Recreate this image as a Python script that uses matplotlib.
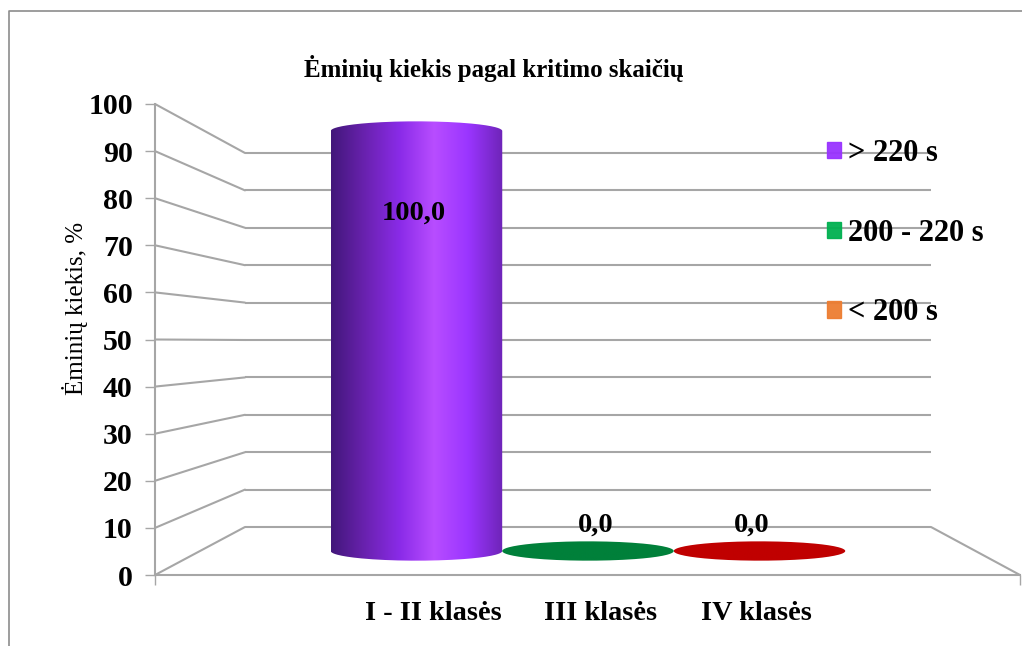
import numpy as np
import matplotlib
matplotlib.use("Agg")
import matplotlib.pyplot as plt
from matplotlib.colors import LinearSegmentedColormap
from matplotlib.lines import Line2D
from matplotlib.patches import ConnectionPatch, Patch, PathPatch
from matplotlib.path import Path

categories = ["I - II klasės", "III klasės", "IV klasės"]
values = [100.0, 0.0, 0.0]
y_ticks = [0, 10, 20, 30, 40, 50, 60, 70, 80, 90, 100]
legend_labels = ["> 220 s", "200 - 220 s", "< 200 s"]
legend_colors = ["#9933ff", "#00b050", "#ed7d31"]
title = "Ėminių kiekis pagal kritimo skaičių"
y_label = "Ėminių kiekis, %"

bar_colors = [
    ["#42177a", "#6a22b0", "#8a2be8", "#b84dff", "#9a35ff", "#6e24b8"],
    ["#00803a", "#00803a"],
    ["#c00000", "#c00000"],
]

W, H = 1022, 646
GRID = "#a6a6a6"
plt.rcParams["font.family"] = ["Liberation Serif", "DejaVu Serif"]
fig = plt.figure(figsize=(W / 100, H / 100), dpi=100)


def box(x0, y_top, x1, y_bottom):
    # pixel box of the picture -> figure fraction
    return [x0 / W, 1 - y_bottom / H, (x1 - x0) / W, (y_bottom - y_top) / H]


fig.add_artist(Line2D([8.5 / W, 8.5 / W, 1], [0, 1 - 11 / H, 1 - 11 / H], color="#8c8c8c", lw=1.2))

# back wall, front axis and the plane through the middle of the cylinders
ax_back = fig.add_axes(box(245, 153, 931, 527))
ax_front = fig.add_axes(box(155, 104, 1020, 575))
ax_mid = fig.add_axes(box(245, 131, 931, 551))

for ax in (ax_back, ax_front, ax_mid):
    ax.set_xlim(0, 4)
    ax.set_ylim(0, 100)
    ax.patch.set_alpha(0)

ax_back.axis("off")
ax_back.hlines(y_ticks, 0, 4, color=GRID, lw=1.5, clip_on=False)

for s in ["top", "right"]:
    ax_front.spines[s].set_visible(False)
for s in ["left", "bottom"]:
    ax_front.spines[s].set_color(GRID)
    ax_front.spines[s].set_linewidth(1.5)
ax_front.set_yticks(y_ticks)
ax_front.set_yticklabels(y_ticks, fontsize=21.5, fontweight="bold")
ax_front.set_xticks([0, 4])
ax_front.set_xticklabels([])
ax_front.tick_params(color=GRID, width=1, length=7, pad=9)
ax_front.set_ylabel(y_label, fontsize=18)
ax_front.yaxis.set_label_coords(-0.0775, 0.567)

for v in y_ticks:
    fig.add_artist(ConnectionPatch(xyA=(0, v), xyB=(0, v), coordsA=ax_front.transData, coordsB=ax_back.transData,
                                   color=GRID, lw=1.5))
fig.add_artist(ConnectionPatch(xyA=(4, 0), xyB=(4, 0), coordsA=ax_back.transData, coordsB=ax_front.transData,
                               color=GRID, lw=1.5))

ax_mid.axis("off")
t = np.linspace(0, np.pi, 80)
label_dx = [-2.5, 8, -8]
label_dy = [-82, 26, 26]
name_dx = [16.5, 13, -3.5]
for i, (name, v, stops) in enumerate(zip(categories, values, bar_colors)):
    x = i + 1
    # cylinder outline: top ellipse arc, then the bottom one
    px = np.r_[x - 0.5 * np.cos(t), x + 0.5 * np.cos(t)]
    py = np.r_[v + 2.3 * np.sin(t), -2.3 * np.sin(t)]
    outline = PathPatch(Path(np.c_[px, py]), transform=ax_mid.transData, fc="none", ec="none")
    ax_mid.add_patch(outline)
    cmap = LinearSegmentedColormap.from_list("bar%d" % i, stops)
    im = ax_mid.imshow(np.linspace(0, 1, 256).reshape(1, -1), cmap=cmap, aspect="auto",
                       extent=(x - 0.5, x + 0.5, -3, v + 3), zorder=3)
    im.set_clip_path(outline)
    im.set_clip_box(fig.bbox)  # image must run past the axes box, ellipses stick out of it
    ax_mid.annotate("{:.1f}".format(v).replace(".", ","), (x, v), xytext=(label_dx[i], label_dy[i]),
                    textcoords="offset pixels", ha="center", va="center", fontsize=20.5, fontweight="bold",
                    annotation_clip=False, zorder=4)
    ax_mid.annotate(name, (x, 0), xytext=(name_dx[i], -62), textcoords="offset pixels", ha="center", va="center",
                    fontsize=20.3, fontweight="bold", annotation_clip=False)
ax_mid.set_xlim(0, 4)
ax_mid.set_ylim(0, 100)

handles = [Patch(facecolor=c, edgecolor=c, alpha=0.95) for c in legend_colors]
ax_mid.legend(handles, legend_labels, loc="upper left", bbox_to_anchor=(827 / W, 1 - 139 / H),
              bbox_transform=fig.transFigure, frameon=False, prop={"size": 22, "weight": "bold"},
              handlelength=0.46, handleheight=0.46, handletextpad=0.22, labelspacing=1.66, borderpad=0, borderaxespad=0)

fig.text(494 / W, 1 - 69 / H, title, ha="center", va="center", fontsize=18, fontweight="bold")

fig.savefig("out.png", dpi=100, facecolor="white")
